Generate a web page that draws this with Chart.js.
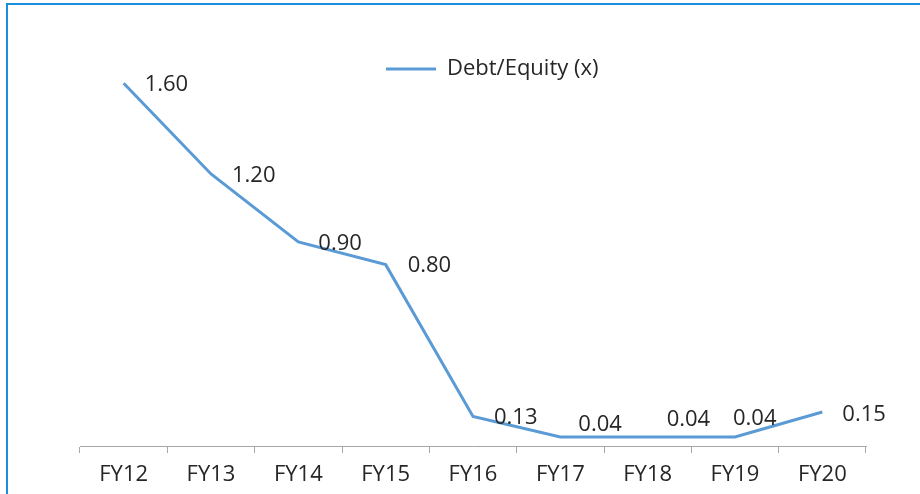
<!DOCTYPE html>
<html>
<head>
<meta charset="utf-8">
<script src="https://cdn.jsdelivr.net/npm/chart.js@4"></script>
<style>
  html, body { margin: 0; padding: 0; background: #ffffff; overflow: hidden; }
  #wrap { position: relative; width: 920px; height: 494px; }
  #c { position: absolute; left: 0; top: 0; }
  #frame { position: absolute; left: 6px; top: 3px; width: 1000px; height: 600px;
           border-left: 2px solid #1B8FDC; border-top: 2px solid #1B8FDC; pointer-events: none; }
</style>
</head>
<body>
<div id="wrap">
  <canvas id="c" width="920" height="494"></canvas>
  <div id="frame"></div>
</div>
<script>
const categories = ["FY12", "FY13", "FY14", "FY15", "FY16", "FY17", "FY18", "FY19", "FY20"];
const debtEquity = [1.60, 1.20, 0.90, 0.80, 0.13, 0.04, 0.04, 0.04, 0.15];
const seriesName = "Debt/Equity (x)";

const FONT = "'Open Sans', 'Liberation Sans', sans-serif";
const TEXT = "#262626";
const LINE = "#5B9BD5";

// label placement (offset of label's left edge / vertical centre from its point)
const labelDx = [21, 21, 20, 22, 21, 18, 19, -2, 20];
const labelDy = [1.5, 1.5, 1.5, 1.5, 1, -12.5, -17.5, -18.5, 2.5];

const valueLabels = {
  id: "valueLabels",
  afterDatasetsDraw(chart) {
    const ctx = chart.ctx;
    const meta = chart.getDatasetMeta(0);
    ctx.save();
    ctx.font = "22px " + FONT;
    ctx.fillStyle = TEXT;
    ctx.textAlign = "left";
    ctx.textBaseline = "middle";
    meta.data.forEach((pt, i) => {
      ctx.fillText(debtEquity[i].toFixed(2), pt.x + labelDx[i], pt.y + labelDy[i]);
    });
    ctx.restore();
  }
};

const legendShift = {
  id: "legendShift",
  afterLayout(chart) {
    const lg = chart.legend;
    if (!lg) return;
    const dx = 296, dy = -135;
    lg.left += dx; lg.right += dx;
    lg.top += dy; lg.bottom += dy;
  }
};

new Chart(document.getElementById("c"), {
  type: "line",
  data: {
    labels: categories,
    datasets: [{
      label: seriesName,
      data: debtEquity,
      borderColor: LINE,
      backgroundColor: LINE,
      borderWidth: 3,
      pointRadius: 0,
      pointHoverRadius: 0,
      tension: 0,
      fill: false
    }]
  },
  options: {
    responsive: false,
    animation: false,
    devicePixelRatio: 1,
    layout: { padding: { left: 80, right: 54, top: 38, bottom: -3 } },
    plugins: {
      legend: {
        display: true,
        position: "chartArea",
        align: "center",
        labels: {
          usePointStyle: true,
          pointStyle: "line",
          pointStyleWidth: 50,
          boxHeight: 10,
          color: TEXT,
          font: { family: FONT, size: 22 },
          padding: 10
        }
      },
      tooltip: { enabled: false }
    },
    scales: {
      x: {
        offset: true,
        grid: {
          display: true,
          offset: true,
          drawOnChartArea: false,
          drawTicks: true,
          tickLength: 7,
          color: "#A6A6A6",
          lineWidth: 1
        },
        border: { display: true, color: "#A6A6A6", width: 1 },
        ticks: {
          color: TEXT,
          font: { family: FONT, size: 22, lineHeight: 1 },
          padding: 11,
          maxRotation: 0,
          autoSkip: false
        }
      },
      y: {
        display: false,
        min: 0,
        max: 1.8
      }
    }
  },
  plugins: [valueLabels, legendShift]
});
</script>
</body>
</html>
